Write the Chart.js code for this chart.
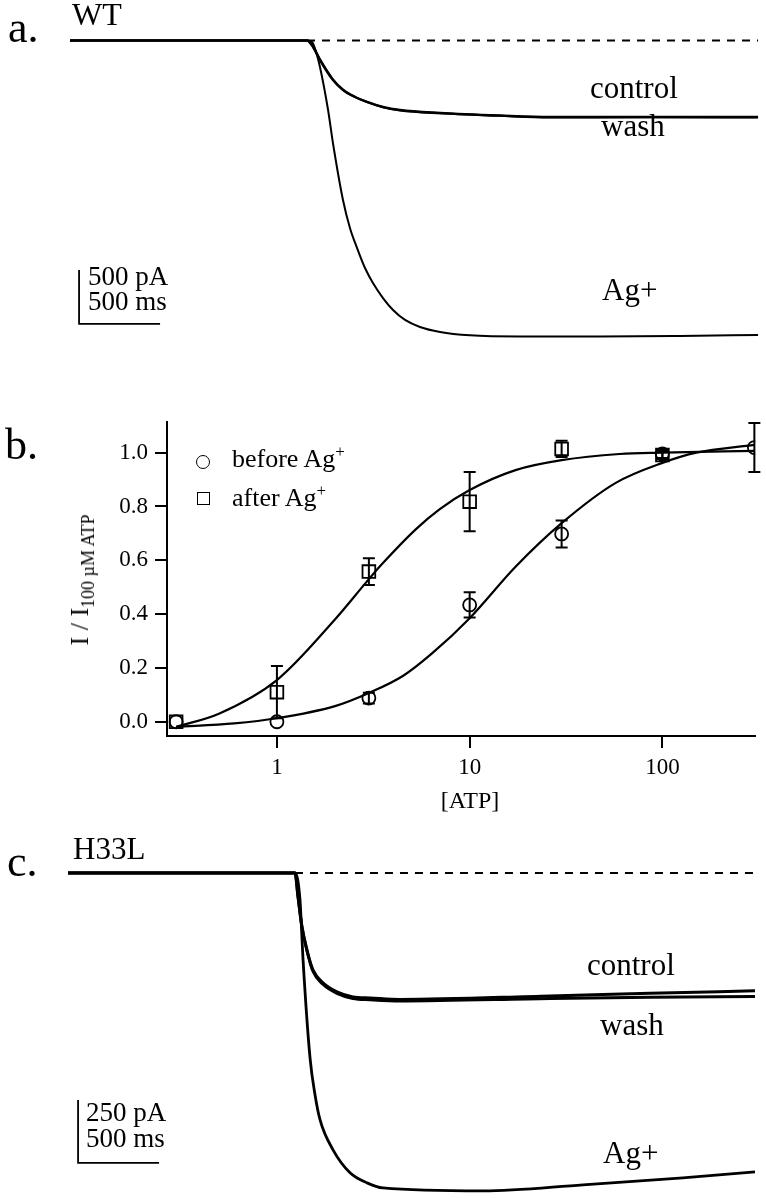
<!DOCTYPE html>
<html>
<head>
<meta charset="utf-8">
<script src="https://cdn.jsdelivr.net/npm/chart.js@4.4.1/dist/chart.umd.min.js"></script>
<style>
  html, body { margin: 0; padding: 0; background: #fff; }
  #fig { position: relative; width: 766px; height: 1199px; overflow: hidden;
         font-family: 'Liberation Serif', 'Times New Roman', serif; color: #000; }
  #fig canvas { position: absolute; left: 0; }
  .t { position: absolute; white-space: nowrap; line-height: 1; }
  .t sup, .t sub { line-height: 0; }
  .mk { position: absolute; box-sizing: border-box; border: 1.8px solid #000; }
</style>
</head>
<body>
<div id="fig">
  <canvas id="panelA" width="766" height="380" style="top:0"></canvas>
  <canvas id="panelB" width="766" height="440" style="top:380px"></canvas>
  <canvas id="panelC" width="766" height="379" style="top:820px"></canvas>

  <!-- panel a -->
  <div class="t" style="left:8px;top:6px;font-size:44px">a.</div>
  <div class="t" style="left:72px;top:-2px;font-size:32px">WT</div>
  <div class="t" style="left:590px;top:72px;font-size:31px">control</div>
  <div class="t" style="left:601px;top:110px;font-size:31px">wash</div>
  <div class="t" style="left:602px;top:274px;font-size:31px">Ag+</div>
  <div class="t" style="left:88px;top:263px;font-size:27px">500 pA</div>
  <div class="t" style="left:88px;top:288px;font-size:27px">500 ms</div>

  <!-- panel b -->
  <div class="t" style="left:5px;top:423px;font-size:44px">b.</div>
  <span class="mk" style="left:196px;top:455px;width:14px;height:14px;border-radius:50%"></span>
  <span class="mk" style="left:197px;top:492px;width:13px;height:13px"></span>
  <div class="t" style="left:232px;top:446px;font-size:26px">before Ag<sup style="font-size:17px">+</sup></div>
  <div class="t" style="left:232px;top:485px;font-size:26px">after Ag<sup style="font-size:17px">+</sup></div>
  <div class="t" style="left:470px;top:788px;font-size:24px;transform:translateX(-50%)">[ATP]</div>
  <div class="t" style="left:80px;top:580px;font-size:26px;transform:translate(-50%,-50%) rotate(-90deg)">I / I<sub style="font-size:18px">100 µM ATP</sub></div>

  <!-- panel c -->
  <div class="t" style="left:7px;top:840px;font-size:44px">c.</div>
  <div class="t" style="left:73px;top:833px;font-size:31px">H33L</div>
  <div class="t" style="left:587px;top:949px;font-size:31px">control</div>
  <div class="t" style="left:600px;top:1009px;font-size:31px">wash</div>
  <div class="t" style="left:603px;top:1137px;font-size:31px">Ag+</div>
  <div class="t" style="left:86px;top:1099px;font-size:27px">250 pA</div>
  <div class="t" style="left:86px;top:1125px;font-size:27px">500 ms</div>
</div>

<script>
// ---- panel a: WT currents (time in ms, current in pA) ----
const wtTime = [0, 1463, 1500, 1543, 1623, 1685, 1759, 1833, 1932, 2037, 2284, 2654, 2963, 3580, 4247];
const wtControl = [0, 0, -60, -181, -366, -458, -523, -569, -616, -644, -671, -695, -708, -708, -708];
const wtWash = [0, 0, -55, -175, -360, -455, -522, -570, -618, -647, -674, -697, -712, -710, -712];
const wtAgTime = [0, 1463, 1494, 1519, 1543, 1593, 1623, 1685, 1728, 1772, 1821, 1870, 1932, 1994, 2068, 2160, 2284, 2469, 2778, 3272, 3765, 4247];
const wtAg = [0, 0, -14, -106, -245, -644, -949, -1477, -1736, -1922, -2107, -2246, -2385, -2496, -2588, -2653, -2699, -2730, -2741, -2741, -2736, -2727];
const wtBaseTime = [1463, 4247];
const wtBarTime = [56, 56, 556];       // 500 ms
const wtBarCurrent = [-2125, -2625, -2625]; // 500 pA

// ---- panel b: dose response ----
const atp = [0.3, 1, 3, 10, 30, 100, 300];
const before = [0.0, 0.0, 0.088, 0.434, 0.698, 0.995, 1.019];
const beforeErr = [0, 0, 0.02, 0.047, 0.05, 0.015, 0.091];
const after = [0.0, 0.11, 0.558, 0.818, 1.014, 0.991, null];
const afterErr = [0, 0.097, 0.05, 0.11, 0.03, 0.015, null];
const beforeFitX = [0.3, 0.6, 1, 2, 3, 4.5, 6.4, 10, 17.3, 30, 57, 100, 150, 300];
const beforeFitY = [-0.019, -0.006, 0.013, 0.058, 0.107, 0.17, 0.255, 0.385, 0.576, 0.738, 0.887, 0.962, 1.0, 1.029];
const afterFitX = [0.3, 0.5, 1, 2, 3, 3.5, 5.25, 7, 10, 17.3, 30, 60, 100, 300];
const afterFitY = [-0.019, 0.03, 0.155, 0.38, 0.53, 0.585, 0.715, 0.79, 0.861, 0.935, 0.972, 0.995, 1.0, 1.007];
const xTicks = [1, 10, 100];
const yTicks = [0, 0.2, 0.4, 0.6, 0.8, 1.0];

// ---- panel c: H33L currents ----
const h33Time = [0, 1401, 1420, 1444, 1475, 1512, 1574, 1660, 1759, 1864, 2049, 2975, 3593, 4241];
const h33Control = [0, 0, -95, -214, -306, -385, -436, -472, -492, -496, -502, -488, -478, -468];
const h33Wash = [0, 0, -95, -214, -308, -390, -442, -478, -498, -503, -508, -498, -493, -490];
const h33AgTime = [0, 1401, 1432, 1451, 1494, 1525, 1556, 1636, 1741, 1846, 1944, 2562, 3179, 3796, 4241];
const h33Ag = [0, 0, -107, -345, -734, -881, -980, -1099, -1190, -1230, -1250, -1262, -1238, -1210, -1186];
const h33BaseTime = [1401, 4241];
const h33BarTime = [62, 62, 562];        // 500 ms
const h33BarCurrent = [-901, -1151, -1151]; // 250 pA

const SERIF = "'Liberation Serif', 'Times New Roman', serif";
const pts = (xs, ys) => xs.map((x, i) => ({ x, y: ys[i] })).filter((p) => p.y != null);

function trace(xs, ys, width, dash) {
  return {
    type: 'line', data: pts(xs, ys), borderColor: '#000', borderWidth: width,
    pointRadius: 0, fill: false, cubicInterpolationMode: 'monotone',
    borderDash: dash || [], borderCapStyle: 'butt',
  };
}

function tracePanel(id, xr, yr, datasets) {
  return new Chart(document.getElementById(id), {
    type: 'line',
    data: { datasets },
    options: {
      responsive: false, animation: false, devicePixelRatio: 1, events: [],
      layout: { padding: 0 },
      plugins: { legend: { display: false }, tooltip: { enabled: false } },
      scales: {
        x: { type: 'linear', min: xr[0], max: xr[1], display: false },
        y: { type: 'linear', min: yr[0], max: yr[1], display: false },
      },
    },
  });
}

tracePanel('panelA', [-432, 4296], [-3144, 375], [
  trace(wtBaseTime, [0, 0], 2, [8, 7]),
  trace(wtTime, wtControl, 2.4),
  trace(wtTime, wtWash, 2.2),
  trace(wtAgTime, wtAg, 2),
  { ...trace(wtBarTime, wtBarCurrent, 1.8), cubicInterpolationMode: 'default', tension: 0 },
]);

tracePanel('panelC', [-420, 4309], [-1294, 210], [
  trace(h33BaseTime, [0, 0], 2, [8, 7]),
  trace(h33Time, h33Control, 3),
  trace(h33Time, h33Wash, 3),
  trace(h33AgTime, h33Ag, 2.8),
  { ...trace(h33BarTime, h33BarCurrent, 1.8), cubicInterpolationMode: 'default', tension: 0 },
]);

// error bars drawn through the chart's own scales
const errorBars = {
  id: 'errorBars',
  afterDatasetsDraw(chart) {
    const { ctx, scales: { x, y } } = chart;
    chart.data.datasets.forEach((ds) => {
      if (!ds.errors) return;
      ctx.save();
      ctx.strokeStyle = '#000';
      ctx.lineWidth = 2;
      ds.data.forEach((p, i) => {
        const e = ds.errors[i];
        if (!e) return;
        const px = x.getPixelForValue(p.x);
        const top = y.getPixelForValue(p.y + e);
        const bot = y.getPixelForValue(p.y - e);
        ctx.beginPath();
        ctx.moveTo(px, top); ctx.lineTo(px, bot);
        ctx.moveTo(px - 6, top); ctx.lineTo(px + 6, top);
        ctx.moveTo(px - 6, bot); ctx.lineTo(px + 6, bot);
        ctx.stroke();
      });
      ctx.restore();
    });
  },
};

const axisFont = { family: SERIF, size: 23 };
new Chart(document.getElementById('panelB'), {
  type: 'scatter',
  data: {
    datasets: [
      trace(beforeFitX, beforeFitY, 2.2),
      trace(afterFitX, afterFitY, 2.2),
      {
        data: atp.map((x, i) => ({ x, y: before[i] })),
        errors: beforeErr,
        pointStyle: 'circle', pointRadius: 6.5, pointBorderWidth: 1.8,
        borderColor: '#000', backgroundColor: 'rgba(0,0,0,0)',
      },
      {
        data: pts(atp, after),
        errors: afterErr,
        pointStyle: 'rect', pointRadius: 9, pointBorderWidth: 1.8,
        borderColor: '#000', backgroundColor: 'rgba(0,0,0,0)',
      },
    ],
  },
  options: {
    responsive: false, animation: false, devicePixelRatio: 1, events: [],
    layout: { padding: { top: 42, right: 10, left: 0, bottom: 0 } },
    plugins: { legend: { display: false }, tooltip: { enabled: false } },
    scales: {
      x: {
        type: 'logarithmic', min: 0.269, max: 303,
        afterFit: (s) => { s.height = 84; },
        afterBuildTicks: (s) => { s.ticks = xTicks.map((value) => ({ value })); },
        ticks: { callback: (v) => String(v), font: axisFont, color: '#000', padding: 6, maxRotation: 0, autoSkip: false },
        grid: { drawOnChartArea: false, drawTicks: true, tickLength: 12, color: '#000', lineWidth: 2 },
        border: { display: true, color: '#000', width: 2 },
      },
      y: {
        type: 'linear', min: -0.053, max: 1.114,
        afterFit: (s) => { s.width = 167; },
        afterBuildTicks: (s) => { s.ticks = yTicks.map((value) => ({ value })); },
        ticks: { callback: (v) => v.toFixed(1), font: axisFont, color: '#000', padding: 7 },
        grid: { drawOnChartArea: false, drawTicks: true, tickLength: 12, color: '#000', lineWidth: 2 },
        border: { display: true, color: '#000', width: 2 },
      },
    },
  },
  plugins: [errorBars],
});
</script>
</body>
</html>
